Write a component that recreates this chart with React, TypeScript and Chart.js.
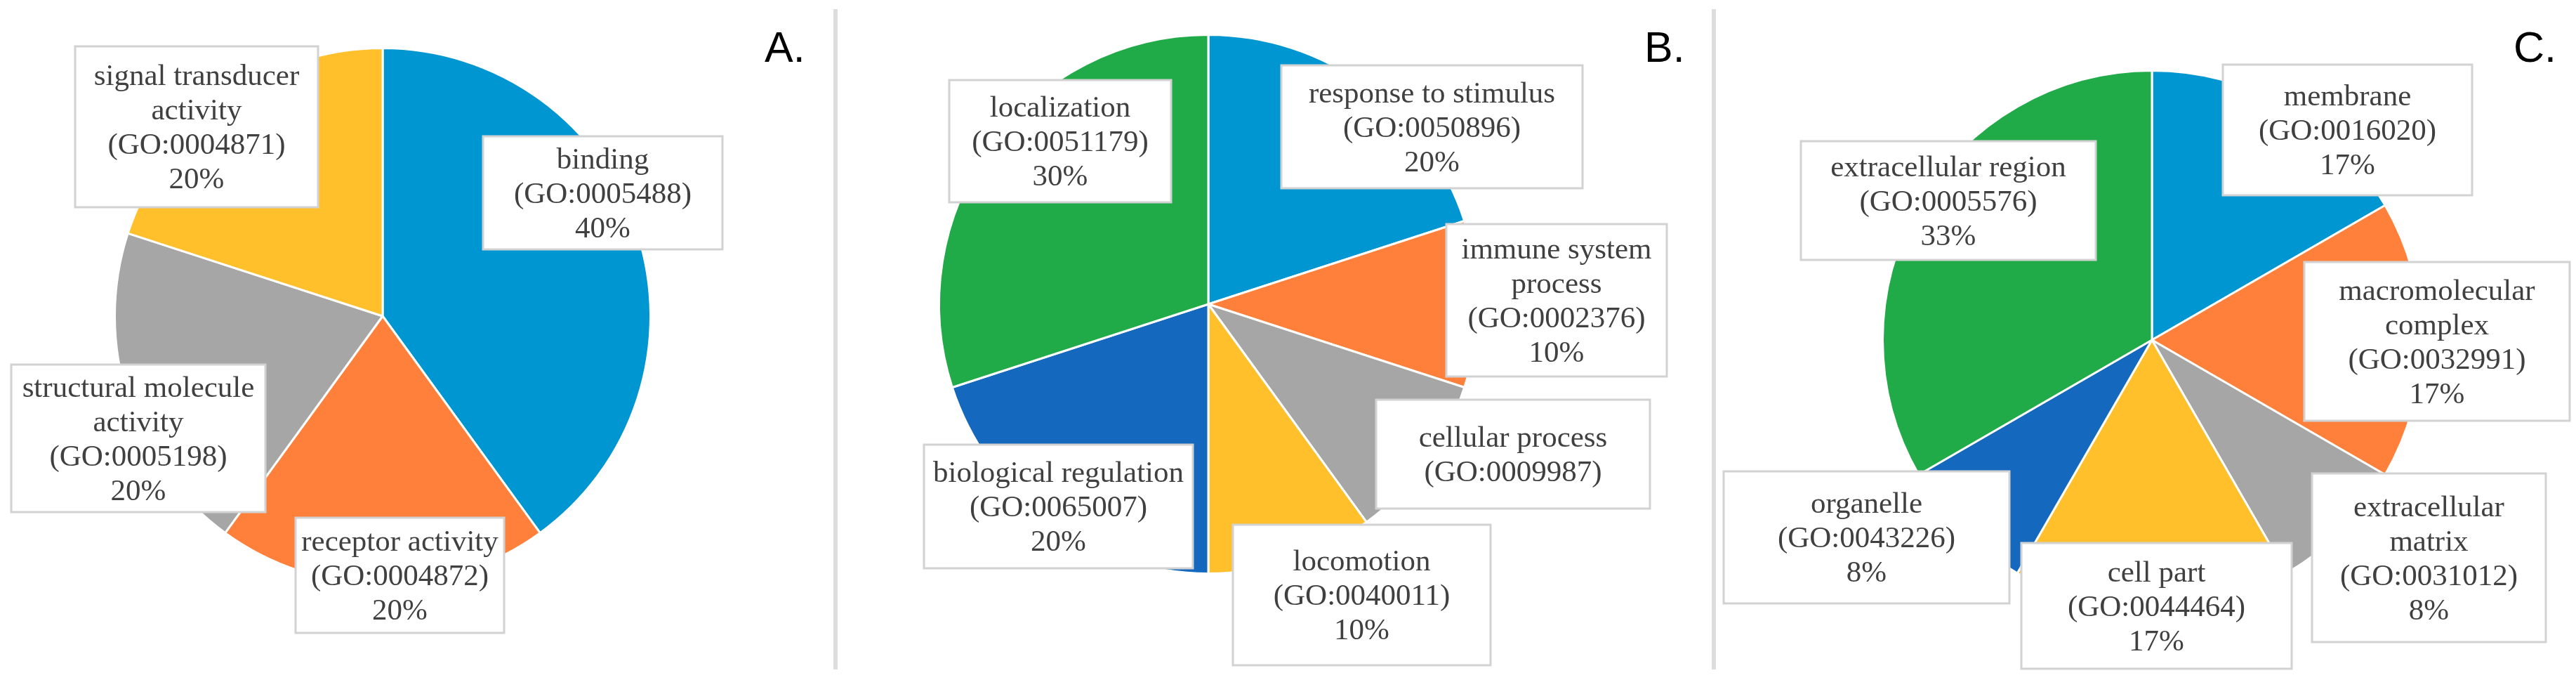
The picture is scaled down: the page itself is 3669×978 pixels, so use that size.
import React, { useEffect, useRef } from "react";
import { Chart, registerables } from "chart.js";

Chart.register(...registerables);

const W = 3669;
const H = 978;

// ---------- data ----------
const categoriesA = ["binding", "receptor activity", "structural molecule\nactivity", "signal transducer\nactivity"];
const goIdsA = ["GO:0005488", "GO:0004872", "GO:0005198", "GO:0004871"];
const valuesA = [2, 1, 1, 1];

const categoriesB = [
  "response to stimulus",
  "immune system\nprocess",
  "cellular process",
  "locomotion",
  "biological regulation",
  "localization",
];
const goIdsB = ["GO:0050896", "GO:0002376", "GO:0009987", "GO:0040011", "GO:0065007", "GO:0051179"];
const valuesB = [2, 1, 1, 1, 2, 3];
const showPctB = [true, true, false, true, true, true];

const categoriesC = [
  "membrane",
  "macromolecular\ncomplex",
  "extracellular\nmatrix",
  "cell part",
  "organelle",
  "extracellular region",
];
const goIdsC = ["GO:0016020", "GO:0032991", "GO:0031012", "GO:0044464", "GO:0043226", "GO:0005576"];
const valuesC = [2, 2, 1, 2, 1, 4];

const panelLetters = ["A.", "B.", "C."];

// ---------- styles ----------
const BLUE = "rgb(0,150,210)";
const ORANGE = "rgb(255,128,58)";
const GRAY = "rgb(166,166,166)";
const YELLOW = "rgb(255,192,44)";
const DARKBLUE = "rgb(20,104,190)";
const GREEN = "rgb(33,170,72)";

const colorsA = [BLUE, ORANGE, GRAY, YELLOW];
const colorsB = [BLUE, ORANGE, GRAY, YELLOW, DARKBLUE, GREEN];
const colorsC = [BLUE, ORANGE, GRAY, YELLOW, DARKBLUE, GREEN];

const LABEL_FONT = '43px "Liberation Serif", "Times New Roman", Times, serif';
const LETTER_FONT = '61px "Liberation Sans", Arial, sans-serif';

// ---------- layout ----------
const BORDER = 3;
const pies = [
  { cx: 545, cy: 450, r: 380 },
  { cx: 1721, cy: 433, r: 382 },
  { cx: 3065, cy: 484, r: 382 },
];
const boxesA = [
  [688, 194, 1029, 355],
  [421, 737, 718, 901],
  [16, 519, 378, 729],
  [107, 66, 453, 295],
];
const boxesB = [
  [1825, 93, 2254, 268],
  [2060, 319, 2374, 536],
  [1960, 569, 2350, 724],
  [1756, 747, 2123, 947],
  [1316, 633, 1699, 809],
  [1352, 114, 1668, 288],
];
const boxesC = [
  [3166, 92, 3521, 278],
  [3282, 373, 3660, 599],
  [3293, 674, 3626, 914],
  [2879, 773, 3264, 952],
  [2455, 671, 2862, 859],
  [2565, 201, 2985, 370],
];
const letterX = [1089, 2342, 3580];
const LETTER_BASELINE = 88;
const separatorX = [1187, 2438];

type Panel = {
  categories: string[];
  goIds: string[];
  values: number[];
  colors: string[];
  showPct: boolean[] | null;
  boxes: number[][];
  pie: { cx: number; cy: number; r: number };
  letter: string;
  letterX: number;
  sepX: number | null;
};

const panels: Panel[] = [
  {
    categories: categoriesA,
    goIds: goIdsA,
    values: valuesA,
    colors: colorsA,
    showPct: null,
    boxes: boxesA,
    pie: pies[0],
    letter: panelLetters[0],
    letterX: letterX[0],
    sepX: separatorX[0],
  },
  {
    categories: categoriesB,
    goIds: goIdsB,
    values: valuesB,
    colors: colorsB,
    showPct: showPctB,
    boxes: boxesB,
    pie: pies[1],
    letter: panelLetters[1],
    letterX: letterX[1],
    sepX: separatorX[1],
  },
  {
    categories: categoriesC,
    goIds: goIdsC,
    values: valuesC,
    colors: colorsC,
    showPct: null,
    boxes: boxesC,
    pie: pies[2],
    letter: panelLetters[2],
    letterX: letterX[2],
    sepX: null,
  },
];

function makeLabelPlugin(p: Panel) {
  return {
    id: "goLabels",
    afterDraw(chart: any) {
      const ctx: CanvasRenderingContext2D = chart.ctx;
      const total = p.values.reduce((a, b) => a + b, 0);
      ctx.save();
      if (p.sepX !== null) {
        ctx.fillStyle = "#dddddd";
        ctx.fillRect(p.sepX, 13, 6, 940);
      }
      const lh = 49;
      p.boxes.forEach((b, i) => {
        const [x0, y0, x1, y1] = b;
        ctx.fillStyle = "#ffffff";
        ctx.fillRect(x0, y0, x1 - x0, y1 - y0);
        ctx.strokeStyle = "#d2d2d2";
        ctx.lineWidth = 3;
        ctx.strokeRect(x0, y0, x1 - x0, y1 - y0);
        const lines = p.categories[i].split("\n");
        lines.push("(" + p.goIds[i] + ")");
        if (!p.showPct || p.showPct[i]) {
          lines.push(Math.round((p.values[i] / total) * 100) + "%");
        }
        ctx.fillStyle = "#404040";
        ctx.font = LABEL_FONT;
        ctx.textAlign = "center";
        ctx.textBaseline = "middle";
        const cx = (x0 + x1) / 2;
        const cy = (y0 + y1) / 2 + 3;
        const start = cy - (lines.length * lh) / 2 + lh / 2;
        lines.forEach((t, k) => ctx.fillText(t, cx, start + k * lh));
      });
      ctx.fillStyle = "#000000";
      ctx.font = LETTER_FONT;
      ctx.textAlign = "left";
      ctx.textBaseline = "alphabetic";
      ctx.fillText(p.letter, p.letterX, LETTER_BASELINE);
      ctx.restore();
    },
  };
}

function PiePanel({ panel }: { panel: Panel }) {
  const ref = useRef<HTMLCanvasElement | null>(null);
  useEffect(() => {
    if (!ref.current) return;
    const { cx, cy, r } = panel.pie;
    const rr = r + BORDER;
    let alive = true;
    const chart = new Chart(ref.current, {
      type: "pie",
      data: {
        labels: panel.categories.map((c) => c.replace("\n", " ")),
        datasets: [
          {
            data: panel.values,
            backgroundColor: panel.colors,
            borderColor: "#ffffff",
            borderWidth: BORDER,
          },
        ],
      },
      options: {
        responsive: false,
        animation: false,
        events: [],
        layout: {
          padding: {
            left: cx - rr,
            right: W - (cx + rr),
            top: cy - rr,
            bottom: H - (cy + rr),
          },
        },
        plugins: {
          legend: { display: false },
          tooltip: { enabled: false },
        },
      },
      plugins: [makeLabelPlugin(panel)],
    });
    const fonts: any = (document as any).fonts;
    if (fonts && fonts.load) {
      Promise.all([fonts.load(LABEL_FONT), fonts.load(LETTER_FONT)])
        .catch(() => null)
        .then(() => {
          if (alive) chart.draw();
        });
    }
    return () => {
      alive = false;
      chart.destroy();
    };
  }, [panel]);
  return (
    <canvas
      ref={ref}
      width={W}
      height={H}
      style={{ position: "absolute", left: 0, top: 0, width: W, height: H, pointerEvents: "none" }}
    />
  );
}

export default function App() {
  useEffect(() => {
    document.body.style.margin = "0";
    document.body.style.background = "#ffffff";
  }, []);
  return (
    <div style={{ position: "relative", width: W, height: H, background: "#ffffff", overflow: "hidden" }}>
      {panels.map((p, i) => (
        <PiePanel key={i} panel={p} />
      ))}
    </div>
  );
}
